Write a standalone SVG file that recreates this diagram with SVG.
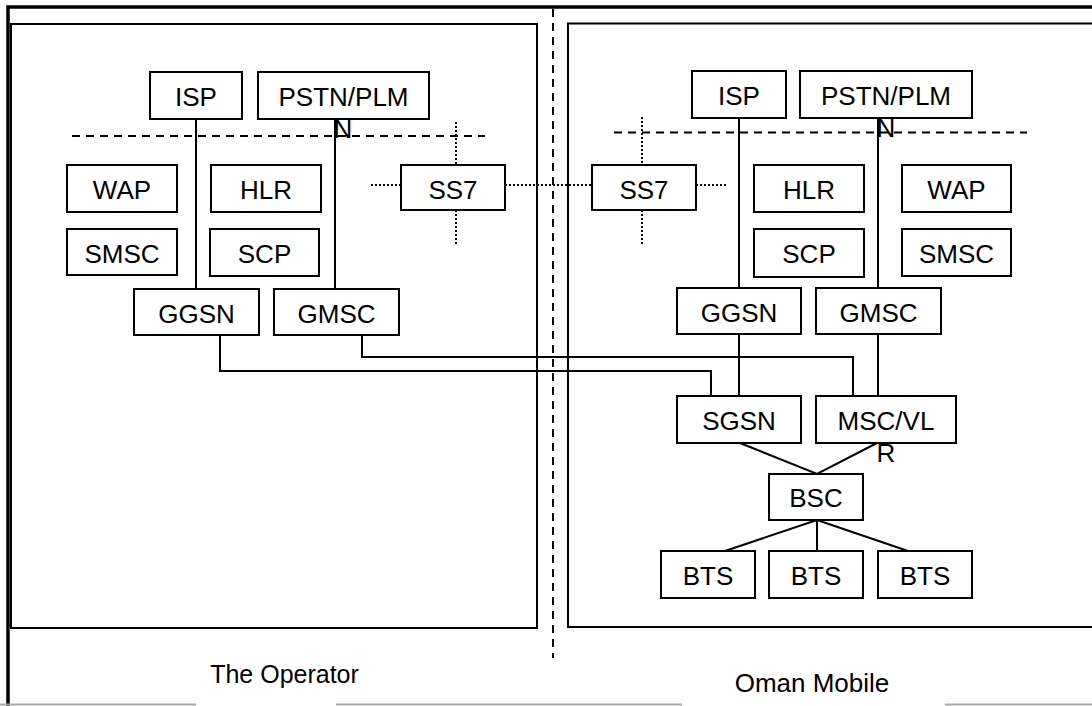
<svg xmlns="http://www.w3.org/2000/svg" width="1092" height="706" viewBox="0 0 1092 706">
<style>
.box{fill:#fff;stroke:#000;stroke-width:2}
.t{font-family:"Liberation Sans",Arial,sans-serif;font-size:26px;fill:#000;text-anchor:middle}
.lbl{font-family:"Liberation Sans",Arial,sans-serif;fill:#000;text-anchor:middle}
.c{fill:none;stroke:#000;stroke-width:2}
.dash{fill:none;stroke:#000;stroke-width:2;stroke-dasharray:8 6}
.dot{fill:none;stroke:#000;stroke-width:2;stroke-dasharray:2 2}
.frame{fill:none;stroke:#000;stroke-width:2}
</style>
<rect x="0" y="0" width="1092" height="706" fill="#fff"/>
<g id="frame">
  <rect class="frame" x="11" y="24" width="526" height="604"/>
  <path class="frame" d="M1100,23.5 H568 V627 H1100"/>
  <path d="M8,706 V7 H1092" fill="none" stroke="#000" stroke-width="3.5"/>
  <path d="M0,704.5 H196 M336,704.5 H682 M945,704.5 H1092" fill="none" stroke="#a8a8a8" stroke-width="2"/>
  <line class="dash" x1="553" y1="9" x2="553" y2="658"/>
  <line class="dash" x1="72" y1="136" x2="485" y2="136"/>
  <line class="dash" x1="614" y1="132.5" x2="1027" y2="132.5"/>
</g>
<g id="connectors">
  <path class="c" d="M196,119 V289"/>
  <path class="c" d="M335,119 V289"/>
  <path class="c" d="M220,335 V371 H711 V396"/>
  <path class="c" d="M362,335 V357 H853 V396"/>
  <path class="c" d="M739,118 V288"/>
  <path class="c" d="M878,118 V288"/>
  <path class="c" d="M739,334 V396"/>
  <path class="c" d="M878,334 V396"/>
  <path class="c" d="M740,443 L817,474 L877,443"/>
  <path class="c" d="M817,520 L725,551 M817,520 V551 M817,520 L908,551"/>
  <path class="dot" d="M456,122 V165 M456,210 V245 M371,185 H401 M505,185 H592 M642,117 V165 M642,210 V245 M696,185 H727"/>
</g>
<g id="op-isp"><rect class="box" x="150" y="72" width="92" height="47"/><text class="t" x="196" y="106">ISP</text></g>
<g id="op-pstn"><rect class="box" x="258" y="72" width="171" height="47"/><text class="t" x="343.5" y="106">PSTN/PLM</text><text class="t" x="343" y="138">N</text></g>
<g id="op-wap"><rect class="box" x="67" y="165" width="110" height="47"/><text class="t" x="122" y="199">WAP</text></g>
<g id="op-hlr"><rect class="box" x="211" y="165" width="110" height="47"/><text class="t" x="266" y="199">HLR</text></g>
<g id="op-ss7"><rect class="box" x="401" y="165" width="104" height="45"/><text class="t" x="453" y="199">SS7</text></g>
<g id="op-smsc"><rect class="box" x="67" y="229" width="110" height="46"/><text class="t" x="122" y="263">SMSC</text></g>
<g id="op-scp"><rect class="box" x="210" y="229" width="109" height="47"/><text class="t" x="264.5" y="263">SCP</text></g>
<g id="op-ggsn"><rect class="box" x="134" y="289" width="125" height="46"/><text class="t" x="196.5" y="323">GGSN</text></g>
<g id="op-gmsc"><rect class="box" x="274" y="289" width="125" height="46"/><text class="t" x="336.5" y="323">GMSC</text></g>

<g id="om-isp"><rect class="box" x="692" y="71" width="94" height="47"/><text class="t" x="739" y="105">ISP</text></g>
<g id="om-pstn"><rect class="box" x="800" y="71" width="172" height="47"/><text class="t" x="886" y="105">PSTN/PLM</text><text class="t" x="886" y="137">N</text></g>
<g id="om-ss7"><rect class="box" x="592" y="165" width="104" height="45"/><text class="t" x="644" y="199">SS7</text></g>
<g id="om-hlr"><rect class="box" x="754" y="165" width="110" height="47"/><text class="t" x="809" y="199">HLR</text></g>
<g id="om-wap"><rect class="box" x="902" y="165" width="109" height="47"/><text class="t" x="956.5" y="199">WAP</text></g>
<g id="om-scp"><rect class="box" x="754" y="229" width="110" height="48"/><text class="t" x="809" y="263">SCP</text></g>
<g id="om-smsc"><rect class="box" x="902" y="229" width="109" height="47"/><text class="t" x="956.5" y="263">SMSC</text></g>
<g id="om-ggsn"><rect class="box" x="677" y="288" width="124" height="46"/><text class="t" x="739" y="322">GGSN</text></g>
<g id="om-gmsc"><rect class="box" x="816" y="288" width="125" height="46"/><text class="t" x="878.5" y="322">GMSC</text></g>
<g id="om-sgsn"><rect class="box" x="677" y="396" width="124" height="47"/><text class="t" x="739" y="430">SGSN</text></g>
<g id="om-msc"><rect class="box" x="816" y="396" width="140" height="47"/><text class="t" x="886" y="430">MSC/VL</text><text class="t" x="886" y="462">R</text></g>
<g id="om-bsc"><rect class="box" x="769" y="474" width="94" height="46"/><text class="t" x="816" y="507">BSC</text></g>
<g id="om-bts1"><rect class="box" x="661" y="551" width="94" height="47"/><text class="t" x="708" y="585">BTS</text></g>
<g id="om-bts2"><rect class="box" x="769" y="551" width="94" height="47"/><text class="t" x="816" y="585">BTS</text></g>
<g id="om-bts3"><rect class="box" x="878" y="551" width="94" height="47"/><text class="t" x="925" y="585">BTS</text></g>

<text class="lbl" x="284.5" y="683" font-size="25">The Operator</text>
<text class="lbl" x="812" y="692" font-size="26">Oman Mobile</text>
</svg>
